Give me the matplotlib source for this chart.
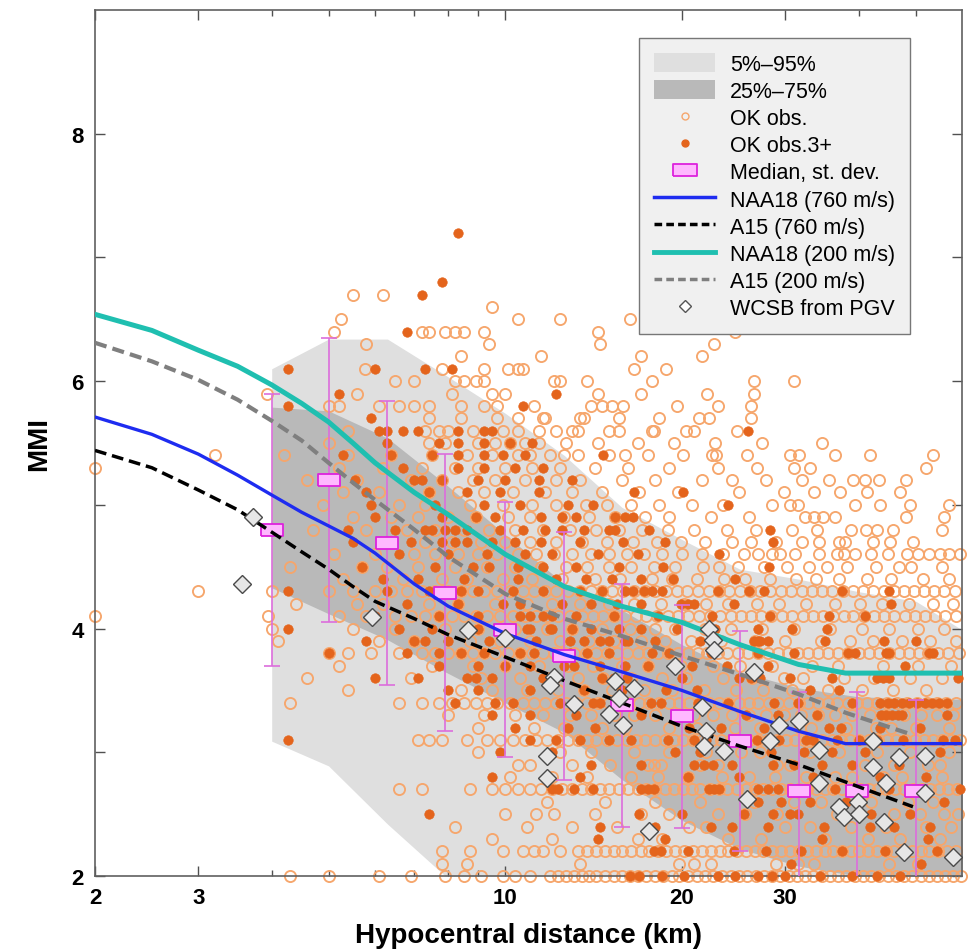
import matplotlib
matplotlib.use("Agg")
import matplotlib.pyplot as plt
import matplotlib.ticker as mticker
from matplotlib.lines import Line2D
from matplotlib.patches import Patch

plt.rcParams["font.family"] = ["Liberation Sans", "DejaVu Sans"]

# ── percentile bands (km, MMI) ───────────────────────────────────────
band_dist = [4.0, 5.0, 6.3, 7.9, 10.0, 12.6, 15.8, 20.0, 25.1, 31.6, 39.8, 50.1, 60.0]
p05 = [3.09, 2.89, 2.42, 2.00, 2.00, 2.00, 2.00, 2.00, 2.00, 2.00, 2.00, 2.00, 2.00]
p95 = [6.10, 6.34, 6.34, 6.05, 5.74, 5.40, 4.98, 4.72, 4.48, 4.40, 4.30, 4.22, 3.99]
p25 = [4.33, 4.12, 3.91, 3.65, 3.40, 3.16, 2.78, 2.45, 2.22, 2.08, 2.00, 2.00, 2.00]
p75 = [5.79, 5.76, 5.54, 5.17, 4.76, 4.36, 4.15, 3.87, 3.65, 3.52, 3.45, 3.43, 3.43]

# ── binned median and st. dev. ───────────────────────────────────────
bin_dist = [4.0, 5.0, 6.3, 7.9, 10.0, 12.6, 15.8, 20.0, 25.1, 31.6, 39.8, 50.1]
bin_median = [4.80, 5.20, 4.69, 4.29, 3.99, 3.78, 3.38, 3.29, 3.09, 2.69, 2.69, 2.69]
bin_std = [1.10, 1.15, 1.15, 1.12, 1.03, 1.00, 0.98, 0.90, 0.89, 0.80, 0.80, 0.73]

# ── model curves ─────────────────────────────────────────────────────
naa_dist = [2.0, 2.5, 3.0, 3.5, 4.0, 4.5, 5.0, 5.5, 6.0, 7.0, 8.0, 10.0,
            12.6, 15.8, 20.0, 25.1, 31.6, 38.0, 60.0]
naa18_760 = [5.71, 5.57, 5.41, 5.24, 5.08, 4.94, 4.83, 4.73, 4.61, 4.36, 4.18, 3.96,
             3.79, 3.65, 3.50, 3.33, 3.17, 3.07, 3.07]
naa18_200 = [6.54, 6.41, 6.25, 6.12, 5.97, 5.82, 5.67, 5.50, 5.34, 5.10, 4.92, 4.60,
             4.34, 4.18, 4.05, 3.87, 3.71, 3.64, 3.64]
a15_dist = [2.0, 2.5, 3.0, 3.5, 4.0, 4.5, 5.0, 5.5, 6.0, 7.0, 8.0, 10.0,
            12.6, 15.8, 20.0, 25.1, 31.6, 38.0, 49.5]
a15_760 = [5.44, 5.30, 5.12, 4.96, 4.78, 4.62, 4.48, 4.34, 4.22, 4.08, 3.95, 3.77,
           3.58, 3.40, 3.21, 3.05, 2.90, 2.76, 2.56]
a15_200 = [6.31, 6.16, 6.01, 5.85, 5.68, 5.52, 5.34, 5.18, 5.04, 4.80, 4.58, 4.28,
           4.08, 3.94, 3.78, 3.63, 3.47, 3.32, 3.14]

# ── WCSB from PGV ────────────────────────────────────────────────────
wcsb_dist = [3.72, 3.56, 5.94, 8.63, 10.0, 12.1, 11.9, 13.1, 11.8, 11.8, 15.4, 16.6,
             15.6, 15.0, 15.9, 17.6, 19.5, 22.2, 22.6, 22.7, 21.6, 22.0, 21.8, 23.6,
             26.5, 28.2, 25.8, 29.3, 31.7, 34.3, 34.3, 42.4, 42.4, 46.9, 51.8, 44.6,
             51.8, 37.1, 37.8, 39.9, 40.1, 44.1, 47.7, 58.0]
wcsb_mmi = [4.90, 4.36, 4.09, 3.99, 3.92, 3.61, 3.54, 3.39, 2.97, 2.79, 3.58, 3.52,
            3.44, 3.31, 3.22, 2.36, 3.70, 4.00, 3.91, 3.83, 3.37, 3.17, 3.05, 3.01,
            3.65, 3.09, 2.62, 3.22, 3.25, 3.02, 2.75, 3.09, 2.88, 2.96, 2.97, 2.75,
            2.67, 2.56, 2.48, 2.60, 2.50, 2.44, 2.19, 2.15]

# ── OK observations: MMI level -> hypocentral distances ──────────────
obs_levels = [2.0, 2.1, 2.2, 2.3, 2.4, 2.5, 2.6, 2.7, 2.8, 2.9, 3.0, 3.1, 3.2, 3.3,
              3.4, 3.5, 3.6, 3.7, 3.8, 3.9, 4.0, 4.1, 4.2, 4.3, 4.4, 4.5, 4.6, 4.7,
              4.8, 4.9, 5.0, 5.1, 5.2, 5.3, 5.4, 5.5, 5.6, 5.7, 5.8, 5.9, 6.0, 6.1,
              6.2, 6.3, 6.4, 6.5, 6.6, 6.7]
obs_rows = [
    [4.3, 5.0, 6.1, 6.9, 7.9, 8.5, 9.1, 9.9, 10.4, 11.0, 11.9, 12.3, 12.7, 13.1, 13.5,
     13.9, 14.3, 14.8, 15.3, 15.8, 16.3, 16.8, 17.4, 18.0, 18.6, 19.2, 19.8, 20.5,
     21.2, 21.9, 22.6, 23.4, 24.2, 25.0, 25.8, 26.7, 27.6, 28.5, 29.4, 30.4, 31.4,
     32.4, 33.5, 34.6, 35.7, 36.9, 38.1, 39.4, 40.7, 42.0, 43.4, 44.8, 46.3, 47.8,
     49.4, 51.0, 52.7, 54.4, 56.2, 58.0, 59.8],
    [7.8, 8.6, 13.4, 19.8, 21.0, 22.4, 28.9, 31.5, 33.6, 45.0, 50.5],
    [7.8, 8.7, 9.9, 10.7, 11.2, 11.6, 12.4, 13.3, 13.8, 14.3, 14.8, 15.3, 15.8, 16.4,
     17.0, 17.6, 18.2, 18.8, 19.5, 20.2, 20.9, 21.6, 22.4, 23.2, 24.0, 24.8, 25.7,
     26.6, 27.5, 28.5, 29.5, 30.5, 31.6, 32.7, 33.8, 35.0, 36.2, 37.5, 38.8, 40.1,
     41.5, 43.0, 44.5, 46.0, 47.6, 49.3, 51.0, 52.8, 54.6, 56.5, 58.5],
    [9.5, 12.0, 16.8, 18.5, 24.0, 27.3, 35.0, 41.5, 47.0, 55.0],
    [8.2, 10.9, 13.0, 15.5, 20.6, 22.0, 30.0, 33.0, 38.8, 44.5, 52.0, 57.5],
    [10.0, 11.3, 12.1, 14.2, 17.0, 19.0, 23.0, 25.6, 29.0, 36.8, 40.0, 46.0, 50.8,
     56.0, 59.0],
    [11.8, 14.8, 18.0, 21.5, 26.5, 31.0, 34.5, 42.0, 48.5, 53.5],
    [6.6, 7.2, 8.7, 9.5, 10.0, 10.5, 11.0, 11.5, 12.0, 12.5, 13.0, 13.5, 14.0, 14.5,
     15.0, 15.6, 16.2, 16.8, 17.4, 18.0, 18.7, 19.4, 20.1, 20.8, 21.5, 22.3, 23.1,
     23.9, 24.8, 25.7, 26.6, 27.5, 28.5, 29.5, 30.5, 31.6, 32.7, 33.8, 35.0, 36.2,
     37.5, 38.8, 40.2, 41.6, 43.1, 44.6, 46.2, 47.8, 49.5, 51.2, 53.0, 54.9, 56.8,
     58.8],
    [10.2, 12.0, 13.8, 16.4, 18.2, 20.5, 23.4, 26.0, 28.8, 32.5, 36.5, 39.0, 44.0,
     47.5, 55.5],
    [10.5, 11.0, 13.0, 15.1, 17.5, 17.9, 18.4, 21.5, 23.0, 29.0, 30.5, 41.0, 46.0,
     52.5, 55.0],
    [9.0, 12.4, 14.0, 16.6, 19.0, 22.0, 25.2, 27.2, 33.0, 37.0, 43.0, 49.0, 57.0],
    [7.1, 7.4, 7.8, 8.6, 9.3, 9.8, 10.3, 10.8, 11.3, 11.8, 12.3, 12.8, 13.3, 13.8,
     14.3, 14.9, 15.5, 16.1, 16.7, 17.3, 18.0, 18.7, 19.4, 20.1, 20.9, 21.7, 22.5,
     23.3, 24.2, 25.1, 26.0, 27.0, 28.0, 29.0, 30.1, 31.2, 32.3, 33.5, 34.7, 36.0,
     37.3, 38.7, 40.1, 41.6, 43.1, 44.7, 46.3, 48.0, 49.8, 51.6, 53.5, 55.5, 57.5,
     59.5],
    [9.0, 11.2, 12.6, 14.6, 16.0, 19.0, 21.2, 24.6, 27.2, 31.8, 33.2, 38.0, 42.8,
     45.5, 50.0, 57.0],
    [8.0, 9.2, 10.4, 11.6, 12.9, 14.0, 15.4, 16.6, 18.0, 19.6, 21.0, 22.6, 24.3,
     26.0, 27.8, 29.8, 31.9, 34.1, 36.5, 39.0, 41.8, 44.6, 47.8, 51.0, 54.5, 58.0],
    [4.3, 6.6, 7.2, 7.7, 8.1, 8.5, 8.9, 9.3, 9.7, 10.2, 10.7, 11.2, 11.7, 12.2, 12.7,
     13.2, 13.8, 14.4, 15.0, 15.6, 16.2, 16.9, 17.6, 18.3, 19.0, 19.8, 20.6, 21.4,
     22.2, 23.1, 24.0, 25.0, 26.0, 27.0, 28.1, 29.2, 30.4, 31.6, 32.8, 34.1, 35.4,
     36.8, 38.3, 39.8, 41.4, 43.0, 44.7, 46.5, 48.3, 50.2, 52.2, 54.3, 56.4, 58.6],
    [5.4, 8.4, 9.5, 10.9, 12.3, 13.6, 15.2, 17.2, 19.2, 21.8, 24.7, 27.5, 30.8, 35.5,
     40.5, 45.8, 52.0],
    [4.6, 6.9, 9.1, 10.6, 11.9, 13.3, 14.7, 16.4, 18.5, 20.3, 23.5, 26.3, 29.8, 32.2,
     37.8, 42.5, 49.0, 55.5],
    [5.2, 7.5, 8.8, 10.0, 11.4, 12.8, 14.1, 15.8, 17.5, 19.9, 22.6, 25.1, 28.5, 33.3,
     36.9, 44.0, 50.5, 57.5],
    [5.0, 5.4, 5.9, 6.6, 7.2, 7.6, 8.0, 8.4, 8.8, 9.2, 9.6, 10.1, 10.6, 11.1, 11.6,
     12.1, 12.6, 13.1, 13.7, 14.3, 14.9, 15.5, 16.1, 16.8, 17.5, 18.2, 18.9, 19.7,
     20.5, 21.3, 22.1, 23.0, 23.9, 24.9, 25.9, 26.9, 28.0, 29.1, 30.3, 31.5, 32.8,
     34.1, 35.5, 36.9, 38.4, 40.0, 41.6, 43.3, 45.0, 46.8, 48.7, 50.6, 52.6, 54.7,
     56.9, 59.2],
    [4.1, 6.1, 7.0, 8.7, 9.8, 11.0, 12.4, 13.9, 15.3, 17.0, 18.7, 20.7, 23.3, 26.6,
     30.0, 34.5, 38.6, 42.3, 47.5, 53.0, 58.5],
    [4.0, 5.5, 6.5, 7.9, 9.0, 10.4, 11.8, 13.0, 14.6, 16.3, 18.0, 19.5, 21.9, 24.2,
     27.4, 31.0, 35.8, 40.6, 45.0, 50.5, 56.0],
    [2.0, 3.95, 5.2, 5.8, 6.5, 6.9, 7.3, 7.7, 8.1, 8.5, 8.9, 9.3, 9.8, 10.3, 10.8,
     11.3, 11.8, 12.3, 12.9, 13.5, 14.1, 14.7, 15.3, 16.0, 16.7, 17.4, 18.1, 18.9,
     19.7, 20.5, 21.4, 22.3, 23.2, 24.2, 25.2, 26.2, 27.3, 28.4, 29.6, 30.8, 32.1,
     33.4, 34.8, 36.2, 37.7, 39.2, 40.8, 42.5, 44.2, 46.0, 47.9, 49.9, 51.9, 54.0,
     56.2, 58.5],
    [4.4, 5.6, 6.2, 7.4, 8.3, 9.6, 10.9, 12.0, 13.4, 15.0, 16.6, 18.4, 20.2, 22.0,
     24.0, 26.8, 29.3, 32.5, 36.4, 40.2, 43.8, 48.8, 53.5, 58.0],
    [3.0, 4.0, 5.0, 5.5, 6.0, 6.4, 6.8, 7.2, 7.6, 8.0, 8.4, 8.8, 9.2, 9.7, 10.2,
     10.7, 11.2, 11.7, 12.2, 12.8, 13.4, 14.0, 14.6, 15.2, 15.9, 16.6, 17.3, 18.0,
     18.8, 19.6, 20.4, 21.3, 22.2, 23.1, 24.1, 25.1, 26.1, 27.2, 28.3, 29.5, 30.7,
     32.0, 33.3, 34.7, 36.1, 37.6, 39.1, 40.7, 42.4, 44.1, 45.9, 47.8, 49.7, 51.7,
     53.8, 56.0, 58.3],
    [5.3, 6.7, 7.8, 8.6, 9.9, 11.1, 12.5, 14.2, 15.7, 17.8, 19.2, 21.2, 23.6, 25.6,
     28.2, 31.3, 33.9, 37.0, 41.4, 45.5, 51.5, 57.0],
    [4.3, 5.7, 6.3, 7.1, 8.2, 9.3, 10.4, 11.5, 12.7, 13.8, 15.0, 16.4, 17.9, 19.5,
     21.7, 23.1, 24.9, 27.6, 30.2, 32.9, 35.3, 38.2, 42.9, 46.8, 49.2, 55.5],
    [5.1, 6.0, 7.0, 7.6, 8.3, 9.0, 9.7, 10.5, 11.3, 12.1, 13.0, 14.0, 15.0, 16.1,
     17.2, 18.5, 20.0, 21.6, 23.5, 25.5, 27.0, 28.5, 29.4, 31.2, 34.3, 36.7, 37.8,
     39.5, 42.0, 44.8, 48.3, 50.5, 52.8, 55.0, 57.0, 59.5],
    [6.4, 7.3, 8.1, 9.1, 10.0, 11.0, 12.2, 13.5, 14.9, 16.5, 18.1, 19.9, 21.9, 24.3,
     26.2, 28.9, 32.0, 34.2, 37.0, 37.9, 42.3, 45.3, 49.6],
    [4.7, 5.8, 6.8, 7.6, 8.5, 9.4, 10.4, 11.6, 12.9, 14.3, 15.6, 17.1, 18.9, 21.0,
     23.9, 26.7, 30.8, 34.0, 38.8, 41.2, 43.0, 45.7, 55.5],
    [5.5, 6.4, 7.1, 8.0, 8.9, 10.1, 11.0, 12.6, 13.9, 15.4, 17.3, 19.0, 22.4, 26.0,
     32.4, 33.6, 34.8, 36.5, 48.2, 56.0],
    [4.9, 6.6, 7.3, 8.7, 9.9, 11.1, 12.2, 13.7, 14.9, 16.4, 18.3, 20.8, 23.5, 28.5,
     30.5, 31.5, 39.5, 43.5, 49.0, 57.0],
    [5.3, 6.1, 7.4, 8.3, 9.2, 10.3, 11.7, 13.0, 14.6, 16.9, 19.7, 25.0, 29.8, 33.6,
     37.2, 41.3, 47.0],
    [4.6, 5.6, 6.9, 7.8, 8.8, 9.6, 10.8, 12.2, 13.4, 15.8, 18.0, 21.6, 24.3, 27.8,
     32.0, 35.6, 39.2, 41.0, 43.3, 48.2],
    [2.0, 5.2, 6.2, 7.2, 8.2, 9.0, 10.0, 11.1, 12.4, 14.2, 16.2, 19.0, 23.0, 26.8,
     31.0, 33.0, 52.0],
    [3.2, 4.2, 5.4, 6.4, 7.5, 8.6, 9.5, 10.5, 11.0, 11.9, 12.6, 13.3, 15.0, 16.0,
     17.5, 20.1, 22.5, 22.9, 25.8, 30.6, 31.7, 36.5, 41.9, 53.6],
    [5.0, 7.4, 7.9, 9.0, 9.6, 10.2, 10.8, 11.4, 12.7, 14.4, 16.8, 19.4, 22.8, 27.4,
     34.6],
    [5.4, 7.3, 7.7, 8.0, 8.8, 9.9, 10.5, 11.4, 12.2, 13.0, 13.3, 15.0, 15.6, 17.8,
     17.9, 20.3, 21.0, 24.8],
    [7.4, 8.4, 9.7, 10.5, 11.6, 11.7, 13.4, 13.6, 15.6, 18.3, 21.4, 22.2, 26.2],
    [5.0, 5.2, 6.1, 6.6, 7.0, 7.4, 8.4, 9.2, 9.7, 11.2, 14.0, 14.6, 15.2, 15.9, 19.6,
     23.0, 26.2],
    [3.93, 5.6, 8.1, 9.5, 10.0, 14.4, 17.0, 22.1, 26.5],
    [6.5, 7.0, 8.2, 8.5, 8.9, 9.2, 12.1, 12.4, 13.8, 17.8, 26.5, 31.0],
    [5.76, 7.8, 9.2, 10.1, 10.5, 10.7, 16.6, 18.8],
    [8.4, 11.5, 17.0, 21.6],
    [5.8, 9.4, 14.5, 22.7],
    [5.1, 7.2, 7.4, 7.9, 8.2, 8.5, 9.2, 14.4, 24.6],
    [5.24, 10.5, 12.4, 16.3],
    [9.5],
    [5.5, 6.18],
]

# ── OK observations 3+ ───────────────────────────────────────────────
obs3_levels = [2.0, 2.1, 2.2, 2.3, 2.4, 2.5, 2.6, 2.7, 2.8, 2.9, 3.0, 3.1, 3.2, 3.3,
               3.4, 3.5, 3.6, 3.7, 3.8, 3.9, 4.0, 4.1, 4.2, 4.3, 4.4, 4.5, 4.6, 4.7,
               4.8, 4.9, 5.0, 5.1, 5.2, 5.3, 5.4, 5.5, 5.6, 5.7, 5.8, 5.9, 6.1, 6.4,
               6.7, 6.8, 7.2]
obs3_rows = [
    [16.3, 16.9, 18.5, 20.2, 23.0, 24.6, 27.0, 28.5, 30.0, 34.4, 39.0, 43.0, 47.0],
    [30.7, 51.0],
    [17.9, 18.4, 20.5, 24.5, 27.8, 31.9, 37.4, 44.3, 47.5, 54.5],
    [14.4, 18.7, 34.6, 52.6],
    [14.5, 18.0, 22.4, 24.3, 28.0, 34.9, 41.9, 46.0, 53.0],
    [7.4, 16.9, 20.0, 25.5, 28.6, 30.5, 31.5, 42.0, 49.0],
    [27.0, 29.5, 33.0, 38.0, 56.0],
    [12.0, 12.3, 13.1, 14.1, 17.0, 17.5, 17.9, 22.2, 22.7, 23.1, 27.0, 28.0, 29.2,
     36.5, 39.0, 45.0, 50.5, 59.5],
    [9.5, 13.4, 20.5, 25.0, 33.5, 43.5, 52.0],
    [14.0, 17.0, 21.0, 21.8, 22.6, 24.3, 28.6, 31.0, 34.6, 39.0, 46.9],
    [9.8, 12.0, 19.5, 21.5, 28.4, 32.3, 36.0, 41.0, 55.0],
    [4.26, 11.0, 12.2, 13.4, 15.0, 16.4, 18.9, 21.0, 22.0, 24.6, 26.8, 28.0, 29.3,
     32.6, 33.5, 36.8, 40.0, 43.0, 47.6, 55.7, 58.4],
    [10.4, 12.8, 14.2, 20.6, 23.3, 27.6, 35.6, 37.3, 43.5, 50.8],
    [9.5, 11.0, 13.2, 17.0, 19.8, 25.7, 29.2, 34.0, 43.6, 44.6, 45.6, 46.6, 47.4,
     56.5],
    [8.2, 9.6, 10.3, 12.4, 14.1, 14.5, 17.7, 18.4, 21.3, 24.0, 28.7, 31.5, 39.0,
     43.5, 44.8, 46.0, 47.4, 48.8, 50.3, 51.8, 53.4, 54.8, 56.5],
    [8.0, 9.0, 11.0, 13.6, 15.8, 18.8, 21.2, 33.0, 37.0],
    [6.0, 7.1, 8.6, 8.9, 9.5, 11.6, 12.2, 14.6, 15.3, 16.1, 20.0, 25.0, 26.2, 27.2,
     30.5, 36.0, 43.0, 44.0, 45.0, 59.0],
    [7.7, 9.0, 10.0, 11.0, 12.6, 13.1, 14.5, 16.0, 17.5, 20.8, 23.9, 28.0, 48.0],
    [5.0, 6.8, 7.7, 8.4, 9.2, 10.6, 11.2, 12.9, 13.8, 15.0, 17.8, 19.0, 22.4, 26.9,
     31.0, 38.3, 39.5, 44.6, 45.0, 52.8, 53.6],
    [5.8, 7.0, 7.3, 8.0, 9.4, 10.0, 11.3, 12.9, 13.6, 14.5, 15.0, 16.0, 16.2, 18.0,
     21.5, 26.5, 26.9, 27.2, 28.0, 35.0, 44.1, 50.0],
    [4.26, 6.6, 7.5, 8.6, 9.0, 10.9, 11.0, 11.9, 12.0, 13.0, 14.0, 15.6, 17.0, 19.6,
     22.8, 26.9, 30.8, 35.3],
    [6.0, 7.7, 9.0, 10.6, 11.0, 11.6, 12.0, 13.2, 15.3, 18.2, 22.5, 28.3, 35.6, 41.0],
    [6.8, 8.3, 9.9, 10.6, 12.5, 14.0, 15.5, 17.0, 19.9, 20.5, 21.0, 24.5, 45.5],
    [4.26, 6.3, 7.4, 8.4, 9.0, 10.3, 11.6, 13.4, 14.6, 16.0, 16.5, 17.2, 17.8, 18.5,
     23.0, 26.0, 27.6, 37.5, 45.0],
    [6.2, 7.1, 8.5, 10.5, 12.2, 13.7, 15.2, 17.0, 19.3, 24.6],
    [5.7, 7.6, 8.8, 9.4, 10.5, 11.6, 13.2, 15.6, 18.6, 28.1],
    [6.6, 8.0, 9.3, 10.8, 12.0, 14.4, 16.8, 23.1],
    [5.5, 6.9, 7.8, 8.2, 8.6, 9.5, 10.4, 11.5, 13.4, 15.9, 18.7, 28.6],
    [5.4, 6.5, 7.3, 7.5, 7.9, 8.2, 8.6, 9.8, 10.7, 11.7, 12.5, 13.6, 15.0, 15.4, 17.6,
     28.3],
    [6.0, 7.8, 8.9, 9.6, 11.5, 12.5, 13.2, 15.4, 16.0, 16.5],
    [5.9, 7.6, 9.2, 10.6, 12.8, 14.1, 24.0],
    [5.8, 7.4, 8.6, 9.8, 11.4, 16.6, 20.1],
    [5.55, 7.0, 7.2, 7.8, 9.0, 10.0, 11.4, 13.0],
    [6.7, 8.3, 9.2, 10.4, 11.6],
    [5.3, 6.4, 7.5, 8.3, 9.2, 9.9, 10.8, 14.7],
    [6.3, 7.7, 8.3, 9.2, 10.2, 11.1],
    [6.1, 6.3, 6.7, 7.1, 8.3, 9.2, 9.5, 25.9],
    [5.9],
    [4.26, 10.7],
    [5.2, 12.2],
    [4.26, 6.0, 7.3, 8.1],
    [6.8],
    [7.2],
    [7.8],
    [8.3],
]

obs_x = [d for row in obs_rows for d in row]
obs_y = [lv for lv, row in zip(obs_levels, obs_rows) for _ in row]
obs3_x = [d for row in obs3_rows for d in row]
obs3_y = [lv for lv, row in zip(obs3_levels, obs3_rows) for _ in row]

C_LIGHT = "#dfdfdf"
C_DARK = "#b9b9b9"
C_OBS = "#f6a66c"
C_OBS3 = "#e4641c"
C_BOX_FACE = "#ffb8ff"
C_BOX_EDGE = "#dd22dd"
C_ERR = "#dc6ddc"
C_BLUE = "#1e2cf0"
C_CYAN = "#1fbfb0"
C_GRAY = "#7f7f7f"
BOX = [(-1, -0.5), (1, -0.5), (1, 0.5), (-1, 0.5), (-1, -0.5)]

fig = plt.figure(figsize=(9.77, 9.53), dpi=100)
ax = fig.add_axes([95 / 977, 1 - 877 / 953, 867 / 977, 866 / 953])
ax.set_xscale("log")

ax.fill_between(band_dist, p05, p95, color=C_LIGHT, lw=0, zorder=1)
ax.fill_between(band_dist, p25, p75, color=C_DARK, lw=0, zorder=1.1)

ax.plot(obs_x, obs_y, ls="none", marker="o", ms=8.0, mfc="none", mec=C_OBS,
        mew=1.35, zorder=2, clip_on=False)
ax.plot(obs3_x, obs3_y, ls="none", marker="o", ms=6.8, mfc=C_OBS3, mec=C_OBS3,
        mew=0.5, zorder=3, clip_on=False)

ax.errorbar(bin_dist, bin_median, yerr=bin_std, fmt="none", ecolor=C_ERR,
            elinewidth=1.2, capsize=6, capthick=1.2, zorder=4)
ax.plot(bin_dist, bin_median, ls="none", marker=BOX, ms=16.5, mfc=C_BOX_FACE,
        mec=C_BOX_EDGE, mew=1.3, zorder=4.5)

ax.plot(naa_dist, naa18_760, color=C_BLUE, lw=2.4, zorder=6)
ax.plot(a15_dist, a15_760, color="black", lw=2.5, dashes=(3.4, 1.7), zorder=6)
ax.plot(naa_dist, naa18_200, color=C_CYAN, lw=3.6, zorder=6)
ax.plot(a15_dist, a15_200, color=C_GRAY, lw=3.0, dashes=(2.9, 1.5), zorder=6)

ax.plot(wcsb_dist, wcsb_mmi, ls="none", marker="D", ms=9.0, mfc="#e6e6e6",
        mec="#4a4a4a", mew=1.0, zorder=7, clip_on=False)

ax.set_xlim(2, 60)
ax.set_ylim(2, 9)
ax.set_xticks([2, 3, 10, 20, 30])
ax.set_xticklabels(["2", "3", "10", "20", "30"])
ax.xaxis.set_minor_locator(mticker.FixedLocator([4, 5, 6, 7, 8, 9, 40, 50]))
ax.xaxis.set_minor_formatter(mticker.NullFormatter())
ax.set_yticks([2, 4, 6, 8])
ax.yaxis.set_minor_locator(mticker.FixedLocator([3, 5, 7]))
ax.tick_params(which="both", direction="in", top=True, right=True,
               color="#505050", width=1.0)
ax.tick_params(which="major", length=7, labelsize=16, pad=8)
ax.tick_params(axis="x", which="minor", length=4)
ax.tick_params(axis="y", which="minor", length=7)
for lbl in ax.get_xticklabels() + ax.get_yticklabels():
    lbl.set_fontweight("bold")
for sp in ax.spines.values():
    sp.set_color("#606060")
    sp.set_linewidth(1.2)

ax.set_xlabel("Hypocentral distance (km)", fontsize=20, fontweight="bold", labelpad=10)
ax.set_ylabel("MMI", fontsize=20, fontweight="bold", labelpad=14)

handles = [
    Patch(facecolor=C_LIGHT, edgecolor="none", label="5%–95%"),
    Patch(facecolor=C_DARK, edgecolor="none", label="25%–75%"),
    Line2D([], [], ls="none", marker="o", ms=5, mfc="none", mec=C_OBS, mew=1.0,
           label="OK obs."),
    Line2D([], [], ls="none", marker="o", ms=5, mfc=C_OBS3, mec=C_OBS3,
           label="OK obs.3+"),
    Line2D([], [], ls="none", marker=BOX, ms=17, mfc=C_BOX_FACE, mec=C_BOX_EDGE,
           mew=1.3, label="Median, st. dev."),
    Line2D([], [], color=C_BLUE, lw=2.5, label="NAA18 (760 m/s)"),
    Line2D([], [], color="black", lw=2.5, dashes=(2.2, 1.2), label="A15 (760 m/s)"),
    Line2D([], [], color=C_CYAN, lw=3.5, label="NAA18 (200 m/s)"),
    Line2D([], [], color=C_GRAY, lw=2.5, dashes=(2.2, 1.2), label="A15 (200 m/s)"),
    Line2D([], [], ls="none", marker="D", ms=6.5, mfc="white", mec="#555555",
           mew=1.0, label="WCSB from PGV"),
]
leg = ax.legend(handles=handles, loc="upper right",
                bbox_to_anchor=((910 - 95) / 867, (877 - 39) / 866),
                borderaxespad=0, fontsize=15.5, frameon=True, fancybox=False,
                facecolor="#f0f0f0", edgecolor="#777777", framealpha=1,
                handlelength=2.8, handleheight=0.95, handletextpad=0.7,
                labelspacing=0.255, borderpad=0.7)
leg.get_frame().set_linewidth(1.0)
leg.set_zorder(10)

fig.savefig("out.png", dpi=100)
